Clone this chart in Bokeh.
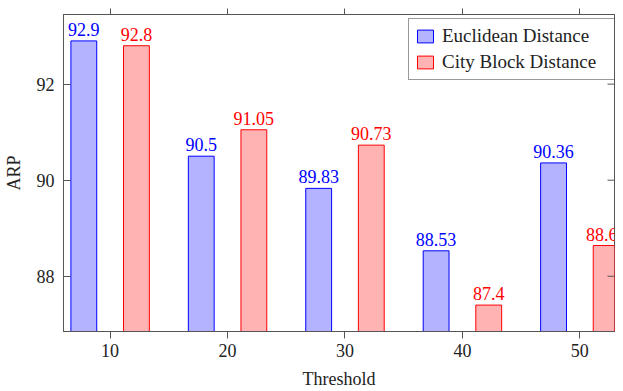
import math
from bokeh.plotting import figure
from bokeh.models import ColumnDataSource, Range1d, LinearAxis, FixedTicker, Legend, LegendItem
from bokeh.transform import dodge
from bokeh.core.properties import value
from bokeh.embed import file_html
from bokeh.resources import INLINE

thresholds = [10, 20, 30, 40, 50]
euclidean = [92.9, 90.5, 89.83, 88.53, 90.36]
city_block = [92.8, 91.05, 90.73, 87.4, 88.64]
x_ticks = [10, 20, 30, 40, 50]
y_ticks = [88, 90, 92]

FONT = "Liberation Serif"
FS = "18px"
FRAME = "#555555"

src = ColumnDataSource(dict(
    x=thresholds,
    e=euclidean,
    c=city_block,
    el=[str(v) for v in euclidean],
    cl=[str(v) for v in city_block],
))

x_range = Range1d(6.03, 52.95)
y_range = Range1d(86.85, 93.45)
p = figure(width=615, height=391, output_backend="svg", toolbar_location=None,
           x_range=x_range, y_range=y_range,
           min_border_left=54, min_border_right=1, min_border_top=14, min_border_bottom=58)
p.xgrid.visible = False
p.ygrid.visible = False
p.outline_line_color = FRAME
p.outline_line_width = 1

OFF = 2.24
W = 2.2
r1 = p.vbar(x=dodge('x', -OFF, range=p.x_range), top='e', bottom=0, width=W, source=src,
            fill_color="#b3b3ff", line_color="#0000ff", line_width=1)
r2 = p.vbar(x=dodge('x', OFF, range=p.x_range), top='c', bottom=0, width=W, source=src,
            fill_color="#ffb3b3", line_color="#ff0000", line_width=1)

p.text(x=dodge('x', -OFF, range=p.x_range), y='e', text='el', source=src,
       text_align="center", text_baseline="bottom", y_offset=-5,
       text_color="#0000ff", text_font=value(FONT), text_font_size=FS)
p.text(x=dodge('x', OFF, range=p.x_range), y='c', text='cl', source=src,
       text_align="center", text_baseline="bottom", y_offset=-5,
       text_color="#ff0000", text_font=value(FONT), text_font_size=FS)

# right-side inner ticks (mirror of the y ticks)
p.ray(x=x_range.end, y=y_ticks, length=7, length_units="screen", angle=math.pi,
      line_color=FRAME, line_width=1)

# axes
xa = p.xaxis[0]
xa.ticker = FixedTicker(ticks=x_ticks)
xa.axis_label = "Threshold"
ya = p.yaxis[0]
ya.ticker = FixedTicker(ticks=y_ticks)
ya.axis_label = "ARP"
for ax in (xa, ya):
    ax.axis_line_color = FRAME
    ax.major_tick_line_color = FRAME
    ax.minor_tick_line_color = None
    ax.major_label_text_font = FONT
    ax.major_label_text_font_size = FS
    ax.major_label_text_color = "#222222"
    ax.axis_label_text_font = FONT
    ax.axis_label_text_font_size = FS
    ax.axis_label_text_font_style = "normal"
    ax.axis_label_text_color = "#222222"
xa.major_tick_in = 0
xa.major_tick_out = 7
xa.major_label_standoff = 5
xa.axis_label_standoff = 9
ya.major_tick_in = 7
ya.major_tick_out = 0
ya.major_label_standoff = 9
ya.axis_label_standoff = 10

top = LinearAxis(ticker=FixedTicker(ticks=x_ticks), major_label_text_font_size="1px",
                 major_label_text_color=None, major_label_standoff=0, axis_label_standoff=0,
                 major_tick_in=0, major_tick_out=6,
                 minor_tick_line_color=None, axis_line_color=FRAME, major_tick_line_color=FRAME)
p.add_layout(top, "above")

legend = Legend(items=[LegendItem(label="Euclidean Distance", renderers=[r1]),
                       LegendItem(label="City Block Distance", renderers=[r2])],
                location=(345, 251))
legend.label_text_font = FONT
legend.label_text_font_size = "19px"
legend.label_text_color = "#222222"
legend.glyph_width = 20
legend.glyph_height = 16
legend.label_height = 20
legend.label_width = 168
legend.label_standoff = 7
legend.spacing = 4
legend.padding = 6
legend.margin = 0
legend.border_line_color = "#333333"
legend.border_line_width = 1
legend.background_fill_alpha = 1
p.add_layout(legend)

open("out.html", "w").write(file_html(p, INLINE))
